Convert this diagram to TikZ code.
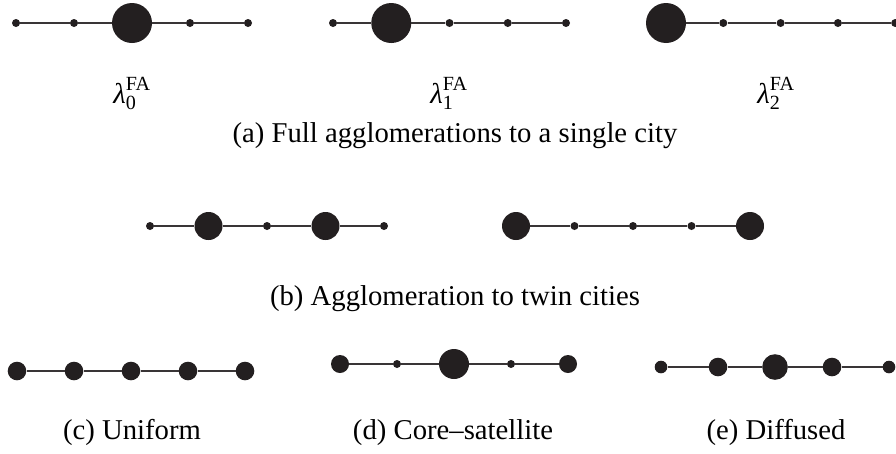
\documentclass[tikz,border=0pt]{standalone}
\usepackage{amsmath}
\usepackage{fontspec}
\setmainfont{Liberation Serif}
\definecolor{towncol}{HTML}{231F20}
\tikzset{
  town/.style={circle, fill=towncol, inner sep=0pt, minimum size=#1},
  road/.style={draw=towncol!90, line width=1.2pt},
  subcap/.style={anchor=base}
}
\begin{document}
\begin{tikzpicture}[x=1pt, y=-1pt, font=\fontsize{28.7}{34}\selectfont]
        \useasboundingbox (0,0) rectangle (896,453);
        % (a) one large city, moving to the left
        \foreach \g/\x/\s/\lx in {0/16/58/132, 1/333/58.25/449, 2/666/57.3/776} {
            \foreach \j in {0,...,4} {
                \pgfmathsetmacro{\d}{\j==2-\g ? 40 : 8}
                \node[town=\d] (a\g\j) at (\x+\s*\j, 23) {};
            }
            \node[subcap] (la\g) at (\lx, 103) {$\text{\itshape λ}^{\text{FA}}_{\text{\g}}$};
        }
        \node[subcap] (capa) at (455, 142) {(a) Full agglomerations to a single city};
        % (b) twin cities
        \foreach \j/\d in {0/8, 1/28, 2/8, 3/28, 4/8}
            \node[town=\d] (b0\j) at (150+58.5*\j, 226) {};
        \foreach \j/\d in {0/28, 1/8, 2/8, 3/8, 4/28}
            \node[town=\d] (b1\j) at (516+58.5*\j, 226) {};
        \node[subcap] (capb) at (455, 305) {(b) Agglomeration to twin cities};
        % (c), (d), (e)
        \foreach \j/\d in {0/18.6, 1/18.6, 2/18.6, 3/18.6, 4/18.6}
            \node[town=\d] (c\j) at (17+57*\j, 371) {};
        \foreach \j/\d in {0/18, 1/8, 2/30, 3/8, 4/18}
            \node[town=\d] (d\j) at (340+57*\j, 364) {};
        \foreach \j/\d in {0/12.6, 1/18.6, 2/25.6, 3/18.6, 4/12.6}
            \node[town=\d] (e\j) at (661+57*\j, 367) {};
        \node[subcap] (capc) at (132, 439) {(c) Uniform};
        \node[subcap] (capd) at (453, 439) {(d) Core--satellite};
        \node[subcap] (cape) at (776, 439) {(e) Diffused};
        % Draw the roads between neighbouring cities
        \foreach \r in {a0,a1,a2,b0,b1,c,d,e} {
            \foreach \j in {0,1,2,3} {
                \draw[road] (\r\j) -- (\r\the\numexpr\j+1\relax);
            }
        }
    \end{tikzpicture}
\end{document}
